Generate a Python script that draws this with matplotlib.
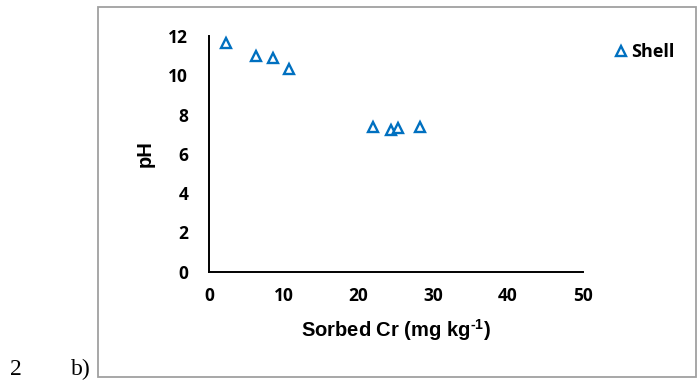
import matplotlib
matplotlib.use('Agg')
import matplotlib.pyplot as plt
from matplotlib.patches import Rectangle

# Sorbed Cr (mg/kg) vs. final pH for the shell sorbent
sorbed_cr = [2.3, 6.3, 8.5, 10.7, 21.9, 24.3, 25.3, 28.2]
ph_values = [11.65, 10.98, 10.9, 10.3, 7.35, 7.23, 7.3, 7.37]
x_ticks = [0, 10, 20, 30, 40, 50]
y_ticks = [0, 2, 4, 6, 8, 10, 12]

plt.rcParams['mathtext.fontset'] = 'custom'
plt.rcParams['mathtext.rm'] = 'Liberation Sans:bold'
plt.rcParams['mathtext.bf'] = 'Liberation Sans:bold'

blue = '#0070C0'
tick_font = {'family': 'Open Sans', 'weight': 'bold', 'size': 12.5}

fig = plt.figure(figsize=(6.98, 3.8), dpi=100)
ax = fig.add_axes([0.2994, 0.285, 0.5354, 0.62])

ax.plot(sorbed_cr, ph_values, linestyle='none', marker='^', markersize=7,
        markerfacecolor='white', markeredgecolor=blue, markeredgewidth=1.7,
        label='Shell', clip_on=False)

ax.set_xlim(0, 50)
ax.set_ylim(0, 12)
ax.set_xticks(x_ticks)
ax.set_yticks(y_ticks)
ax.set_xticklabels([str(t) for t in x_ticks], fontdict=tick_font)
ax.set_yticklabels([str(t) for t in y_ticks], fontdict=tick_font)
ax.tick_params(axis='y', length=0, pad=15)
ax.tick_params(axis='x', length=0, pad=11)

for side in ['top', 'right']:
    ax.spines[side].set_visible(False)
for side in ['left', 'bottom']:
    ax.spines[side].set_linewidth(1.4)
    ax.spines[side].set_color('black')

ax.set_xlabel(r'Sorbed Cr (mg kg$^{\text{-1}}$)', family='Liberation Sans',
              weight='bold', size=14.5, labelpad=9)
ax.set_ylabel('pH', family='Liberation Sans', weight='bold', size=14.5,
              labelpad=10)

leg = ax.legend(loc='upper left', bbox_to_anchor=(0.865, 0.91),
                bbox_transform=fig.transFigure, frameon=False,
                handletextpad=0.1, handlelength=0.9, borderpad=0,
                prop={'family': 'Open Sans', 'weight': 'bold', 'size': 13})

# outer frame around the panel
fig.patches.append(Rectangle((0.1404, 0.0087), 0.857, 0.973,
                             transform=fig.transFigure, fill=False,
                             edgecolor='#a0a0a0', linewidth=1.3))

fig.text(0.014, 0.012, '2', family='Liberation Serif', size=17)
fig.text(0.101, 0.012, 'b)', family='Liberation Serif', size=17)

fig.savefig('out.png', dpi=100)
